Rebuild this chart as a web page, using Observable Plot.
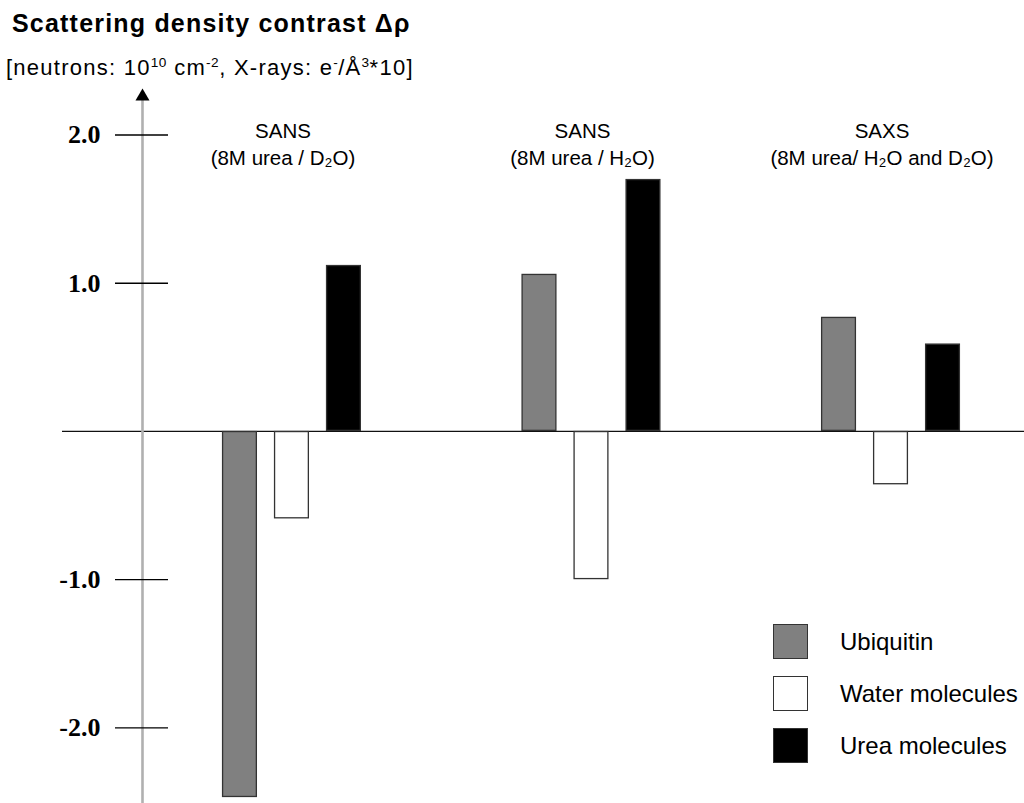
<!DOCTYPE html>
<html><head><meta charset="utf-8">
<script src="https://cdn.jsdelivr.net/npm/d3@7"></script>
<script src="https://cdn.jsdelivr.net/npm/@observablehq/plot@0.6"></script>
<style>
body{margin:0;background:#fff;}
#wrap{position:relative;width:1024px;height:803px;overflow:hidden;font-family:Arial,"Liberation Sans",sans-serif;color:#000;}
#title{position:absolute;left:12px;top:9px;font-size:25px;letter-spacing:1.2px;font-weight:bold;line-height:normal;white-space:nowrap;}
#subtitle{position:absolute;left:6px;top:55px;font-size:22px;letter-spacing:1.25px;line-height:normal;white-space:nowrap;}
sup{font-size:0.62em;vertical-align:0;position:relative;top:-0.6em;line-height:0;letter-spacing:0.5px;}
#chart{position:absolute;left:0;top:85px;}
#legend{position:absolute;left:773px;top:624px;}
.item{display:flex;align-items:center;height:35px;margin-bottom:17px;}
.sw{width:35px;height:35px;box-sizing:border-box;border:1.5px solid #333;margin-right:32px;flex:none;}
.lab{font-size:24px;white-space:nowrap;}
</style>
</head><body>
<div id="wrap">
  <div id="title">Scattering density contrast Δρ</div>
  <div id="subtitle">[neutrons: 10<sup>10</sup> cm<sup>-2</sup>, X-rays: e<sup>-</sup>/Å<sup>3</sup>*10]</div>
  <div id="chart"></div>
  <div id="legend"></div>
</div>
<script>
// ---- data ----
const groupKeys = ["SANS D2O", "SANS H2O", "SAXS"];
const groupLabels = ["SANS\n(8M urea / D₂O)", "SANS\n(8M urea / H₂O)", "SAXS\n(8M urea/ H₂O and D₂O)"];
const components = ["Ubiquitin", "Water molecules", "Urea molecules"];
const ubiquitin = [-2.47, 1.06, 0.77];
const water = [-0.59, -1.00, -0.36];
const urea = [1.12, 1.70, 0.59];
const componentColors = ["#808080", "#ffffff", "#000000"];
const yTicks = [-2, -1, 1, 2];
const yDomain = [-2.51, 2.28];

const series = [ubiquitin, water, urea];
const rows = [];
groupKeys.forEach((g, gi) => components.forEach((c, ci) => rows.push({group: g, component: c, value: series[ci][gi]})));
const labelRows = groupKeys.map((g, i) => ({group: g, label: groupLabels[i], mid: components[1]}));

const plot = Plot.plot({
  width: 1024,
  height: 718,
  marginLeft: 142,
  marginRight: 64,
  marginTop: 8,
  marginBottom: 0,
  style: {fontFamily: "Arial, 'Liberation Sans', sans-serif", background: "transparent", overflow: "visible"},
  fx: {domain: groupKeys, paddingInner: 0.269, paddingOuter: 0, align: 0, round: false, axis: null, label: null},
  x: {domain: components, paddingInner: 0.327, paddingOuter: 0.769, align: 1, round: false, axis: null, label: null},
  y: {domain: yDomain, axis: null, label: null},
  color: {domain: components, range: componentColors},
  marks: [
    Plot.ruleY([0], {facetAnchor: "left", stroke: "#111", strokeWidth: 1.3, insetLeft: -80, insetRight: -720}),
    Plot.frame({anchor: "left", facetAnchor: "left", stroke: "#b0b0b0", strokeWidth: 2.6}),
    Plot.dot([0], {frameAnchor: "top-left", facetAnchor: "left", symbol: "triangle", r: 5.2, fill: "#000", stroke: null, dy: 3}),
    Plot.axisY(yTicks, {
      anchor: "left", tickSize: 53, dx: 26, tickPadding: 15, tickFormat: d => d.toFixed(1),
      stroke: "#000", strokeWidth: 1.3,
      fontFamily: "'Liberation Serif', 'Times New Roman', serif", fontWeight: "bold", fontSize: 26, fill: "#000"
    }),
    Plot.barY(rows, {fx: "group", x: "component", y: "value", fill: "component", stroke: "#333", strokeWidth: 1.3, inset: 0.6}),
    Plot.text(labelRows, {fx: "group", x: "mid", frameAnchor: "top", text: "label", lineAnchor: "top", dy: 25, dx: -9, fontSize: 20.5, lineHeight: 1.32, fill: "#000", textAnchor: "middle"})
  ]
});
document.getElementById("chart").appendChild(plot);

// legend built from the plot's own color scale
const color = plot.scale("color");
const lg = d3.select("#legend");
components.forEach(c => {
  const it = lg.append("div").attr("class", "item");
  it.append("div").attr("class", "sw").style("background", color.apply(c));
  it.append("div").attr("class", "lab").text(c);
});
</script>
</body></html>
